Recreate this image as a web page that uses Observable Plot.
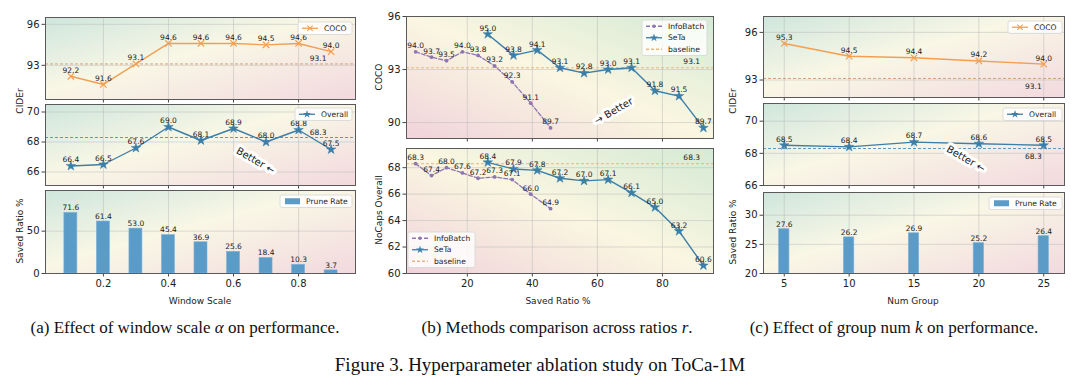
<!DOCTYPE html>
<html><head><meta charset="utf-8">
<script src="https://cdn.jsdelivr.net/npm/d3@7"></script>
<script src="https://cdn.jsdelivr.net/npm/@observablehq/plot@0.6"></script>
<style>
body{margin:0;background:#fff;}
#root{position:relative;width:1080px;height:385px;overflow:hidden;font-family:"DejaVu Sans";background:#fff;}
</style></head><body><div id="root"></div>
<script>
// ---------- data ----------
const windowScale = [0.1,0.2,0.3,0.4,0.5,0.6,0.7,0.8,0.9];
const wsCoco = [92.2,91.6,93.1,94.6,94.6,94.6,94.5,94.6,94.0];
const wsOverall = [66.4,66.5,67.6,69.0,68.1,68.9,68.0,68.8,67.5];
const wsPrune = [71.6,61.4,53.0,45.4,36.9,25.6,18.4,10.3,3.7];
const baseCoco = 93.1;
const baseOverall = 68.3;
const ibRatio = [4.1,9.0,13.6,18.5,23.3,28.4,33.8,39.5,45.6];
const ibCoco = [94.0,93.7,93.5,94.0,93.8,93.2,92.3,91.1,89.7];
const ibNocaps = [68.3,67.4,68.0,67.6,67.2,67.3,67.1,66.0,64.9];
const setaRatio = [26.3,34.2,41.5,48.5,55.9,63.3,70.5,77.7,85.1,92.6];
const setaCoco = [95.0,93.8,94.1,93.1,92.8,93.0,93.1,91.8,91.5,89.7];
const setaNocaps = [68.4,67.9,67.8,67.2,67.0,67.1,66.1,65.0,63.2,60.6];
const numGroup = [5,10,15,20,25];
const gCoco = [95.3,94.5,94.4,94.2,94.0];
const gOverall = [68.5,68.4,68.7,68.6,68.5];
const gPrune = [27.6,26.2,26.9,25.2,26.4];
const ticksA = [0.2,0.4,0.6,0.8];
const ticksB = [20,40,60,80];
const ticksC = [5,10,15,20,25];

// ---------- styles ----------
const ORANGE = "#f29f52", BLUE = "#3b7ea8", PURPLE = "#8d76b3", BAR = "#5b9bc8";
const BASE_O = "#d3a27a", BASE_B = "#5f97bd", BASE_BL = "#e9b77c";
const LBL = 7.5;

const root = document.getElementById("root");
function place(el, left, top){ el.style.position="absolute"; el.style.left=left+"px"; el.style.top=top+"px"; root.appendChild(el); }

// gradient defs
const defs = d3.create("svg").attr("width",0).attr("height",0);
const dg = defs.append("defs");
function grad(id, x1,y1,x2,y2, stops){
  const g = dg.append("linearGradient").attr("id",id).attr("x1",x1).attr("y1",y1).attr("x2",x2).attr("y2",y2);
  stops.forEach(([o,c])=>g.append("stop").attr("offset",o).attr("stop-color",c));
}
grad("gTL",0,0,1,1,[[0,"#cfe6dd"],[0.45,"#f9f7e6"],[1,"#f2d9de"]]);
grad("gBL",0,1,1,0,[[0,"#f0d3db"],[0.5,"#faf6e1"],[1,"#d4eAd5"]]);
place(defs.node(),0,0);

function sub(o){
  const ml=36, mr=4, mt=4, mb=o.showX?30:5;
  const w=o.fx1-o.fx0, h=o.fy1-o.fy0;
  const marks=[
    Plot.frame({fill:`url(#${o.grad})`}),
    Plot.gridX(o.xTicks,{stroke:"#b8b8b8",strokeOpacity:0.6,strokeWidth:0.8}),
    Plot.gridY(o.yTicks,{stroke:"#b8b8b8",strokeOpacity:0.6,strokeWidth:0.8}),
    Plot.axisY(o.yTicks,{tickSize:3.5,tickPadding:2.5,fontSize:10,label:null,stroke:"#444"}),
    o.showX ? Plot.axisX(o.xTicks,{tickSize:3.5,tickPadding:3,fontSize:10,label:null,stroke:"#444"})
            : Plot.axisX(o.xTicks,{tickSize:3.5,tickFormat:()=>"",label:null,stroke:"#444"}),
    ...o.marks,
    Plot.frame({stroke:"#5a5a5a",strokeWidth:1})
  ];
  const svg = Plot.plot({
    width:w+ml+mr, height:h+mt+mb,
    marginLeft:ml, marginRight:mr, marginTop:mt, marginBottom:mb,
    x:{domain:o.xDomain,label:null}, y:{domain:o.yDomain,label:null},
    style:{fontFamily:"DejaVu Sans",background:"transparent",color:"#222",overflow:"visible"},
    marks
  });
  place(svg,o.fx0-ml,o.fy0-mt);
}

const fmt = v=>v.toFixed(1);
const tA = windowScale.map((x,i)=>({x,coco:wsCoco[i],overall:wsOverall[i],prune:wsPrune[i]}));
const tIB = ibRatio.map((x,i)=>({x,coco:ibCoco[i],nocaps:ibNocaps[i]}));
const tSE = setaRatio.map((x,i)=>({x,coco:setaCoco[i],nocaps:setaNocaps[i]}));
const tC = numGroup.map((x,i)=>({x,coco:gCoco[i],overall:gOverall[i],prune:gPrune[i]}));

const STAR_R = 3;
function cocoMarks(t, baseX, baseDy){
  return [
    Plot.ruleY([baseCoco],{stroke:BASE_O,strokeDasharray:"3,2",strokeWidth:1}),
    Plot.line(t,{x:"x",y:"coco",stroke:ORANGE,strokeWidth:1.4}),
    Plot.dot(t,{x:"x",y:"coco",symbol:"times",r:3,stroke:ORANGE,strokeWidth:1.2}),
    Plot.text(t,{x:"x",y:"coco",text:d=>fmt(d.coco),dy:-6,fontSize:LBL,fill:"#222"}),
    Plot.text([baseCoco],{x:()=>baseX,y:d=>d,text:d=>fmt(d),dy:baseDy,fontSize:LBL,fill:"#222"})
  ];
}
function overallMarks(t, baseX, baseDy, better){
  return [
    Plot.ruleY([baseOverall],{stroke:BASE_B,strokeDasharray:"3,2",strokeWidth:1}),
    Plot.line(t,{x:"x",y:"overall",stroke:BLUE,strokeWidth:1.4}),
    Plot.dot(t,{x:"x",y:"overall",symbol:"star",r:STAR_R,fill:BLUE,stroke:BLUE,strokeWidth:0.5}),
    Plot.text(t,{x:"x",y:"overall",text:d=>fmt(d.overall),dy:-6,fontSize:LBL,fill:"#222"}),
    Plot.text([baseOverall],{x:()=>baseX,y:d=>d,text:d=>fmt(d),dy:baseDy,fontSize:LBL,fill:"#222"}),
    Plot.text([better],{x:"x",y:"y",text:()=>"Better ←",rotate:30,fontSize:10,fill:"#222",stroke:"white",strokeWidth:6})
  ];
}
function barMarks(t, half, base){
  return [
    Plot.rectY(t,{x1:d=>d.x-half,x2:d=>d.x+half,y1:base,y2:"prune",fill:BAR,stroke:"#7fb2d8",strokeWidth:0.6}),
    Plot.text(t,{x:"x",y:"prune",text:d=>fmt(d.prune),dy:-5,fontSize:LBL,fill:"#222"})
  ];
}

// ---------- panel (a) ----------
const xA=[0.022,0.975];
sub({fx0:45,fx1:355,fy0:17,fy1:99,xDomain:xA,yDomain:[90.5,96.5],xTicks:ticksA,yTicks:[93,96],grad:"gTL",
  marks:cocoMarks(tA,0.86,-5)});
sub({fx0:45,fx1:355,fy0:104,fy1:185,xDomain:xA,yDomain:[65.1,70.5],xTicks:ticksA,yTicks:[66,68,70],grad:"gTL",
  marks:overallMarks(tA,0.86,-5,{x:0.668,y:66.75})});
sub({fx0:45,fx1:355,fy0:190,fy1:273,xDomain:xA,yDomain:[0,98],xTicks:ticksA,yTicks:[0,50],grad:"gTL",showX:true,
  marks:barMarks(tA,0.02,0)});

// ---------- panel (b) ----------
const xB=[1.3,95.7];
sub({fx0:406,fx1:713,fy0:16,fy1:138,xDomain:xB,yDomain:[89.1,96],xTicks:ticksB,yTicks:[90,93,96],grad:"gBL",
  marks:[
    Plot.ruleY([baseCoco],{stroke:BASE_BL,strokeDasharray:"3,2",strokeWidth:1}),
    Plot.line(tIB,{x:"x",y:"coco",stroke:PURPLE,strokeWidth:1.3,strokeDasharray:"4,2"}),
    Plot.dot(tIB,{x:"x",y:"coco",r:1.9,fill:PURPLE}),
    Plot.line(tSE,{x:"x",y:"coco",stroke:BLUE,strokeWidth:1.4}),
    Plot.dot(tSE,{x:"x",y:"coco",symbol:"star",r:STAR_R,fill:BLUE,stroke:BLUE,strokeWidth:0.5}),
    Plot.text(tIB,{x:"x",y:"coco",text:d=>fmt(d.coco),dy:-6,fontSize:LBL,fill:"#222"}),
    Plot.text(tSE,{x:"x",y:"coco",text:d=>fmt(d.coco),dy:-6,fontSize:LBL,fill:"#222"}),
    Plot.text([baseCoco],{x:()=>89,y:d=>d,text:d=>fmt(d),dy:-6,fontSize:LBL,fill:"#222"}),
    Plot.text([{x:65,y:90.65}],{x:"x",y:"y",text:()=>"→ Better",rotate:-30,fontSize:10,fill:"#222",stroke:"white",strokeWidth:6})
  ]});
sub({fx0:406,fx1:713,fy0:148,fy1:273,xDomain:xB,yDomain:[60,69.45],xTicks:ticksB,yTicks:[60,62,64,66,68],grad:"gBL",showX:true,
  marks:[
    Plot.ruleY([baseOverall],{stroke:BASE_BL,strokeDasharray:"3,2",strokeWidth:1}),
    Plot.line(tIB,{x:"x",y:"nocaps",stroke:PURPLE,strokeWidth:1.3,strokeDasharray:"4,2"}),
    Plot.dot(tIB,{x:"x",y:"nocaps",r:1.9,fill:PURPLE}),
    Plot.line(tSE,{x:"x",y:"nocaps",stroke:BLUE,strokeWidth:1.4}),
    Plot.dot(tSE,{x:"x",y:"nocaps",symbol:"star",r:STAR_R,fill:BLUE,stroke:BLUE,strokeWidth:0.5}),
    Plot.text(tIB,{x:"x",y:"nocaps",text:d=>fmt(d.nocaps),dy:-6,fontSize:LBL,fill:"#222"}),
    Plot.text(tSE,{x:"x",y:"nocaps",text:d=>fmt(d.nocaps),dy:-6,fontSize:LBL,fill:"#222"}),
    Plot.text([baseOverall],{x:()=>89,y:d=>d,text:d=>fmt(d),dy:-6,fontSize:LBL,fill:"#222"})
  ]});

// ---------- panel (c) ----------
const xC=[3.4,26.6];
sub({fx0:763,fx1:1064,fy0:16,fy1:97,xDomain:xC,yDomain:[91.9,97.0],xTicks:ticksC,yTicks:[93,96],grad:"gTL",
  marks:cocoMarks(tC,24.2,8)});
sub({fx0:763,fx1:1064,fy0:103,fy1:185,xDomain:xC,yDomain:[66,71.1],xTicks:ticksC,yTicks:[66,68,70],grad:"gTL",
  marks:overallMarks(tC,24.2,8,{x:19,y:67.65})});
sub({fx0:763,fx1:1064,fy0:192,fy1:273,xDomain:xC,yDomain:[20,33.9],xTicks:ticksC,yTicks:[20,25,30],grad:"gTL",showX:true,
  marks:barMarks(tC,0.4,20)});

// ---------- overlay: labels, legends, captions ----------
const ov = d3.create("svg").attr("width",1080).attr("height",385).style("pointer-events","none");
function ylab(x,y,t){ ov.append("text").attr("transform",`translate(${x},${y}) rotate(-90)`).attr("text-anchor","middle").attr("dy","0.35em").attr("font-family","DejaVu Sans").attr("font-size",9).attr("fill","#222").text(t); }
function xlab(x,y,t){ ov.append("text").attr("x",x).attr("y",y).attr("text-anchor","middle").attr("dy","0.35em").attr("font-family","DejaVu Sans").attr("font-size",9).attr("fill","#222").text(t); }
ylab(20,101,"CIDEr"); ylab(20,231,"Saved Ratio %");
ylab(379,77,"COCO"); ylab(379,210,"NoCaps Overall");
ylab(733,101,"CIDEr"); ylab(733,232,"Saved Ratio %");
xlab(200,301,"Window Scale"); xlab(558,301,"Saved Ratio %"); xlab(913,301,"Num Group");

function legend(x,y,w,entries){
  const rowH=11.5, h=entries.length*rowH+1;
  const g=ov.append("g").attr("transform",`translate(${x},${y})`);
  g.append("rect").attr("width",w).attr("height",h).attr("rx",2).attr("fill","white").attr("fill-opacity",0.8).attr("stroke","#d6d6d6").attr("stroke-width",0.8);
  entries.forEach((e,i)=>{
    const cy=0.5+rowH*(i+0.5);
    if(e.type==="bar"){
      g.append("rect").attr("x",5).attr("y",cy-3).attr("width",15).attr("height",6).attr("fill",BAR);
    } else {
      g.append("line").attr("x1",4).attr("x2",20).attr("y1",cy).attr("y2",cy).attr("stroke",e.color).attr("stroke-width",1.3).attr("stroke-dasharray",e.dash||null);
      if(e.sym==="times") g.append("path").attr("transform",`translate(12,${cy})`).attr("d",d3.symbol(d3.symbolTimes,20)()).attr("fill","none").attr("stroke",e.color).attr("stroke-width",1.1);
      if(e.sym==="star") g.append("path").attr("transform",`translate(12,${cy})`).attr("d",d3.symbol(d3.symbolStar,20)()).attr("fill",e.color);
      if(e.sym==="dot") g.append("circle").attr("cx",12).attr("cy",cy).attr("r",1.8).attr("fill",e.color);
    }
    g.append("text").attr("x",26).attr("y",cy).attr("dy","0.35em").attr("font-family","DejaVu Sans").attr("font-size",7.6).attr("fill","#222").text(e.label);
  });
}
const eCoco=[{label:"COCO",color:ORANGE,sym:"times"}];
const eOver=[{label:"Overall",color:BLUE,sym:"star"}];
const eBar=[{label:"Prune Rate",type:"bar"}];
const eB=[{label:"InfoBatch",color:PURPLE,sym:"dot",dash:"4,2"},{label:"SeTa",color:BLUE,sym:"star"},{label:"baseline",color:BASE_BL,dash:"3,2"}];
legend(298,22,54,eCoco); legend(295,108,57,eOver); legend(280,195,72,eBar);
legend(642,20,65,eB); legend(408,232,67,eB);
legend(1008,21,54,eCoco); legend(1003,108,59,eOver); legend(989,197,73,eBar);

function cap(x,y,size,parts){
  const t=ov.append("text").attr("x",x).attr("y",y).attr("text-anchor","middle").attr("font-family","Liberation Serif").attr("font-size",size).attr("fill","#111");
  parts.forEach(p=>{ const s=t.append("tspan").text(p[0]); if(p[1]) s.attr("font-style","italic"); });
}
cap(185,333,17,[["(a) Effect of window scale "],["α",1],[" on performance."]]);
cap(557,333,17,[["(b) Methods comparison across ratios "],["r",1],["."]]);
cap(894,333,17,[["(c) Effect of group num "],["k",1],[" on performance."]]);
cap(540,371,19,[["Figure 3. Hyperparameter ablation study on ToCa-1M"]]);
place(ov.node(),0,0);
</script></body></html>
